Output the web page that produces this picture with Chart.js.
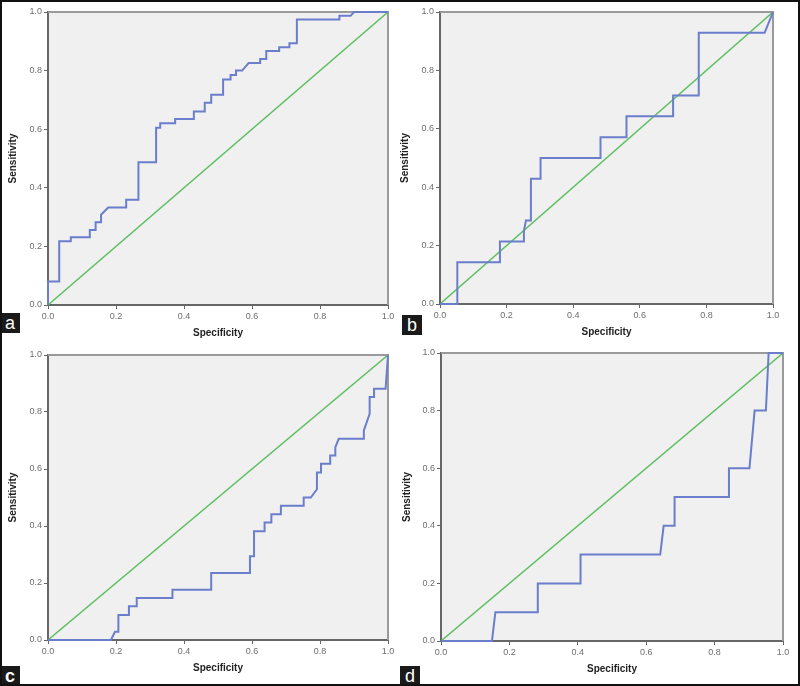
<!DOCTYPE html>
<html>
<head>
<meta charset="utf-8">
<script src="https://cdn.jsdelivr.net/npm/chart.js@4"></script>
<style>
  body { margin: 0; background: #fff; }
  #wrap { position: relative; width: 800px; height: 686px; box-sizing: border-box; border: 2px solid #111; overflow: hidden; }
  .panel { position: absolute; width: 399px; height: 343px; }
  .tag { position: absolute; background: #1a1a1a; color: #fff; font-family: "Liberation Sans", Arial, sans-serif; font-size: 18px; line-height: 20px; width: 20px; height: 20px; text-align: center; }
</style>
</head>
<body>
<div id="wrap">
  <div class="panel" style="left:-2px;top:-2px"><canvas id="pa"></canvas></div>
  <div class="panel" style="left:397px;top:-2px"><canvas id="pb"></canvas></div>
  <div class="panel" style="left:-2px;top:341px"><canvas id="pc"></canvas></div>
  <div class="panel" style="left:397px;top:341px"><canvas id="pd"></canvas></div>
  <div class="tag" style="left:-2px;top:311px">a</div>
  <div class="tag" style="left:400px;top:313px">b</div>
  <div class="tag" style="left:-2px;top:664px;font-weight:bold">c</div>
  <div class="tag" style="left:398px;top:664px">d</div>
</div>
<script>
// ROC curves (x = 1 - specificity axis labelled "Specificity")
const tickValues = [0, 0.2, 0.4, 0.6, 0.8, 1.0];
const refLine = [0, 1];

const aSpec = [0,0,0.033,0.033,0.067,0.067,0.123,0.123,0.14,0.14,0.156,0.156,0.177,0.23,0.23,0.266,0.266,0.318,0.318,0.33,0.33,0.374,0.374,0.429,0.429,0.461,0.461,0.48,0.48,0.515,0.515,0.537,0.537,0.553,0.553,0.571,0.59,0.624,0.624,0.642,0.642,0.68,0.68,0.71,0.71,0.732,0.732,0.857,0.857,0.89,0.9,1];
const aSens = [0,0.08,0.08,0.218,0.218,0.231,0.231,0.256,0.256,0.282,0.282,0.308,0.333,0.333,0.359,0.359,0.487,0.487,0.605,0.605,0.62,0.62,0.635,0.635,0.66,0.66,0.69,0.69,0.718,0.718,0.77,0.77,0.785,0.785,0.8,0.8,0.826,0.826,0.84,0.84,0.867,0.867,0.88,0.88,0.893,0.893,0.974,0.974,0.987,0.987,1,1];

const bSpec = [0,0.052,0.052,0.18,0.18,0.252,0.252,0.258,0.273,0.273,0.302,0.302,0.482,0.482,0.56,0.56,0.70,0.70,0.777,0.777,0.975,1];
const bSens = [0,0,0.143,0.143,0.214,0.214,0.25,0.286,0.286,0.429,0.429,0.5,0.5,0.571,0.571,0.643,0.643,0.714,0.714,0.929,0.929,1];

const cSpec = [0,0.185,0.197,0.207,0.207,0.238,0.238,0.261,0.261,0.366,0.366,0.48,0.48,0.594,0.594,0.606,0.606,0.637,0.637,0.657,0.657,0.685,0.685,0.752,0.752,0.773,0.791,0.791,0.803,0.803,0.83,0.83,0.845,0.845,0.855,0.929,0.929,0.946,0.946,0.959,0.959,0.993,1];
const cSens = [0,0,0.029,0.029,0.088,0.088,0.118,0.118,0.147,0.147,0.176,0.176,0.235,0.235,0.294,0.294,0.382,0.382,0.412,0.412,0.441,0.441,0.471,0.471,0.5,0.5,0.529,0.588,0.588,0.618,0.618,0.647,0.647,0.676,0.706,0.706,0.735,0.794,0.853,0.853,0.882,0.882,1];

const dSpec = [0,0.149,0.159,0.283,0.283,0.408,0.408,0.641,0.651,0.683,0.683,0.842,0.842,0.902,0.917,0.95,0.958,1];
const dSens = [0,0,0.1,0.1,0.2,0.2,0.3,0.3,0.4,0.4,0.5,0.5,0.6,0.6,0.8,0.8,1,1];

// fond gris + cadre haut/droite de la zone de tracé
const frame = {
  id: 'frame',
  beforeDraw(chart) {
    const {ctx, chartArea: a} = chart;
    ctx.save();
    ctx.fillStyle = '#f0f0f0';
    ctx.fillRect(a.left, a.top, a.right - a.left, a.bottom - a.top);
    ctx.restore();
  },
  beforeDatasetsDraw(chart) {
    const {ctx, chartArea: a} = chart;
    ctx.save();
    ctx.strokeStyle = '#9a9a9a';
    ctx.lineWidth = 2;
    ctx.beginPath();
    ctx.moveTo(a.left, a.top);
    ctx.lineTo(a.right, a.top);
    ctx.lineTo(a.right, a.bottom);
    ctx.stroke();
    ctx.restore();
  }
};

function pts(xs, ys) {
  return xs.map((x, i) => ({x: x, y: ys[i]}));
}

function roc(id, spec, sens, g) {
  const tickFont = {family: '"Liberation Sans", Arial, sans-serif', size: 9};
  const titleFont = {family: '"Liberation Sans", Arial, sans-serif', size: 10, weight: 'bold'};
  const axisGrid = {display: true, drawOnChartArea: false, drawTicks: true, tickLength: 4, color: '#666'};
  new Chart(document.getElementById(id), {
    type: 'scatter',
    data: {
      datasets: [
        {data: pts(spec, sens), showLine: true, borderColor: '#6a7ecb', borderWidth: 2, pointRadius: 0, clip: 4},
        {data: pts(refLine, refLine), showLine: true, borderColor: '#5cbf60', borderWidth: 1.6, pointRadius: 0, clip: 4}
      ]
    },
    options: {
      responsive: false,
      animation: false,
      events: [],
      layout: {padding: {left: 0, top: g.top, right: g.right, bottom: g.bottom}},
      plugins: {legend: {display: false}, tooltip: {enabled: false}},
      scales: {
        x: {
          type: 'linear', min: 0, max: 1,
          afterBuildTicks: s => { s.ticks = tickValues.map(v => ({value: v})); },
          afterFit: s => { s.height = 38; },
          grid: axisGrid,
          border: {display: true, color: '#666', width: 2},
          ticks: {font: tickFont, color: '#6e6e6e', padding: 2, maxRotation: 0, callback: v => v.toFixed(1)},
          title: {display: true, text: 'Specificity', font: titleFont, color: '#222', padding: {top: 0, bottom: 4}}
        },
        y: {
          type: 'linear', min: 0, max: 1,
          afterBuildTicks: s => { s.ticks = tickValues.map(v => ({value: v})); },
          afterFit: s => { s.width = g.left; },
          grid: axisGrid,
          border: {display: true, color: '#666', width: 2},
          ticks: {font: tickFont, color: '#6e6e6e', padding: 2, callback: v => v.toFixed(1)},
          title: {display: true, text: 'Sensitivity', font: titleFont, color: '#222', padding: {top: g.tpad, bottom: 0}}
        }
      }
    },
    plugins: [frame]
  });
}

function sizeCanvas(id) {
  const c = document.getElementById(id);
  c.width = 399; c.height = 343;
  c.style.width = '399px'; c.style.height = '343px';
}
['pa', 'pb', 'pc', 'pd'].forEach(sizeCanvas);

roc('pa', aSpec, aSens, {left: 48, top: 12, right: 11, bottom: 0, tpad: 7});
roc('pb', bSpec, bSens, {left: 41, top: 12, right: 25, bottom: 1, tpad: 0});
roc('pc', cSpec, cSens, {left: 48, top: 12, right: 11, bottom: 8, tpad: 7});
roc('pd', dSpec, dSens, {left: 42, top: 10, right: 15, bottom: 7, tpad: 2});
</script>
</body>
</html>
